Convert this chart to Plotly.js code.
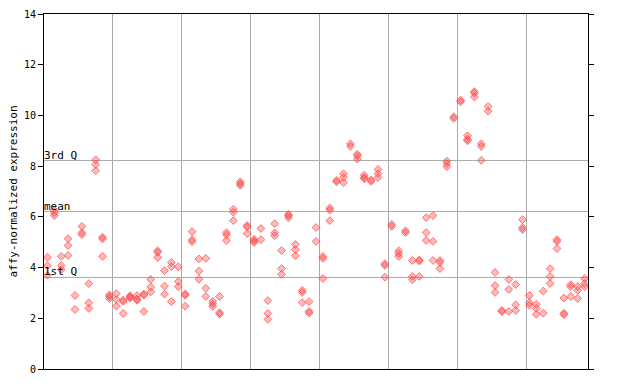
<!DOCTYPE html>
<html>
<head>
<meta charset="utf-8">
<script src="https://cdn.plot.ly/plotly-3.0.1.min.js"></script>
<style>html,body{margin:0;padding:0;background:#fff;}#chart{width:640px;height:384px;}</style>
</head>
<body>
<div id="chart"></div>
<script>
// Expression values per sample (index = sample position along x), in 8 groups
const group1 = [[4.40,4.07,3.70],[6.26,6.15,6.05],[4.44,4.08,3.92],[5.14,4.87,4.48],[2.90,2.35],
                [5.62,5.38,5.30],[3.37,2.61,2.39],[8.25,8.06,7.82],[5.20,5.13,4.44],[2.92,2.86,2.78]];
const group2 = [[2.97,2.74,2.48],[2.72,2.66,2.19],[2.89,2.84,2.80],[2.89,2.76,2.71],[2.96,2.91,2.27],
                [3.53,3.23,3.04],[4.66,4.60,4.40],[3.88,3.27,2.95],[4.20,4.04,2.66],[4.03,3.45,3.25]];
const group3 = [[2.96,2.91,2.48],[5.42,5.10,5.02],[4.34,3.86,3.54],[4.36,3.18,2.86],[2.67,2.57,2.47],
                [2.86,2.22,2.16],[5.38,5.29,5.07],[6.30,6.18,5.85],[7.38,7.31,7.24],[5.66,5.60,5.34]];
const group4 = [[5.12,5.05,4.99],[5.54,5.10],[2.70,2.19,1.96],[5.73,5.37,5.26],[4.67,3.96,3.73],
                [6.10,6.05,5.96],[4.91,4.71,4.47],[3.10,3.02,2.62],[2.66,2.27,2.21],[5.58,5.03]];
const group5 = [[4.44,4.36,3.57],[6.35,6.27,5.85],[7.44,7.38],[7.70,7.56,7.35],[8.88,8.78],
                [8.47,8.40,8.28],[7.64,7.55,7.50],[7.46,7.40],[7.87,7.70,7.55],[4.15,4.08,3.62]];
const group6 = [[5.70,5.62],[4.66,4.55,4.44],[5.45,5.38],[4.28,3.65,3.52],[4.30,4.26,3.65],
                [5.97,5.38,5.07],[6.05,5.03,4.28],[4.28,4.20,3.96],[8.20,8.10,7.98],[9.95,9.88]];
const group7 = [[10.60,10.54],[9.20,9.06,9.00],[10.94,10.88,10.73],[8.88,8.78,8.23],[10.35,10.17],
                [3.81,3.29,3.02],[2.31,2.26],[3.53,3.14,2.27],[3.33,2.53,2.31],[5.89,5.58,5.50]];
const group8 = [[2.90,2.61,2.51],[2.55,2.39,2.16],[3.07,2.20],[3.96,3.65,3.37],[5.10,5.03,4.75],
                [2.80,2.20,2.14],[3.33,3.25,2.86],[3.25,3.10,2.78],[3.57,3.37,3.25]];

// Reference lines
const refValues = [3.61, 6.21, 8.22];
const refLabels = ["1st Q", "mean", "3rd Q"];
const yTicks = [0, 2, 4, 6, 8, 10, 12, 14];
const groupBoundaries = [9.5, 19.5, 29.5, 39.5, 49.5, 59.5, 69.5];

const allSamples = [].concat(group1, group2, group3, group4, group5, group6, group7, group8);
const xs = [], ys = [];
allSamples.forEach((vals, i) => vals.forEach(v => { xs.push(i); ys.push(v); }));

const FONT = "DejaVu Sans Mono, monospace";

const trace = {
  x: xs, y: ys, type: "scatter", mode: "markers",
  marker: { symbol: "diamond", size: 6, color: "rgba(255,80,80,0.4)",
            line: { width: 1, color: "rgba(255,70,70,0.7)" } },
  hoverinfo: "y", showlegend: false
};

const shapes = refValues.map(v => ({
  type: "line", xref: "paper", x0: 0, x1: 1, yref: "y", y0: v, y1: v,
  line: { color: "#aaaaaa", width: 1 }, layer: "below"
}));
const annotations = refValues.map((v, i) => ({
  xref: "paper", x: 0, xanchor: "left", yref: "y", y: v, yanchor: "bottom",
  text: refLabels[i], showarrow: false, xshift: -2, yshift: -3,
  font: { family: FONT, size: 11, color: "#000" }
}));

const layout = {
  width: 640, height: 384,
  margin: { l: 44, r: 52, t: 14, b: 15, pad: 0 },
  paper_bgcolor: "#fff", plot_bgcolor: "#fff",
  font: { family: FONT, size: 10, color: "#000" },
  xaxis: {
    range: [-0.5, allSamples.length - 0.5],
    tickvals: groupBoundaries, showticklabels: false, ticks: "",
    showgrid: true, gridcolor: "#aaaaaa", gridwidth: 1, zeroline: false,
    showline: true, linecolor: "#000", linewidth: 1, mirror: true
  },
  yaxis: {
    range: [0, 14], tickvals: yTicks, ticktext: yTicks.map(String),
    ticks: "outside", ticklen: 5, tickcolor: "#000", tickwidth: 1,
    showgrid: false, zeroline: false,
    showline: true, linecolor: "#000", linewidth: 1, mirror: "ticks",
    tickfont: { family: FONT, size: 10 },
    title: { text: "affy-normalized expression", font: { family: FONT, size: 11 }, standoff: 4 }
  },
  shapes: shapes, annotations: annotations
};

Plotly.newPlot("chart", [trace], layout, { staticPlot: true, displayModeBar: false });
</script>
</body>
</html>
